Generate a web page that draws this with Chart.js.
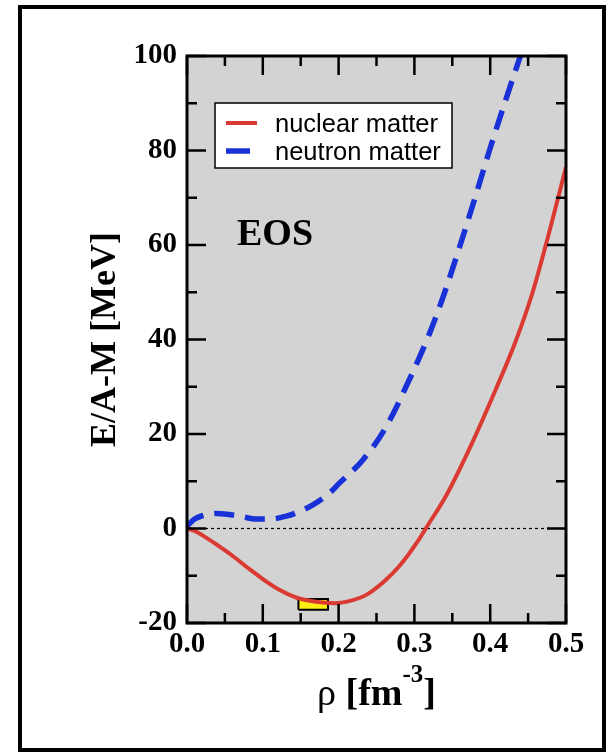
<!DOCTYPE html>
<html>
<head>
<meta charset="utf-8">
<script src="https://cdn.jsdelivr.net/npm/chart.js@4.4.0/dist/chart.umd.min.js"></script>
<style>
  html, body { margin: 0; padding: 0; background: #fff; }
</style>
</head>
<body>
<canvas id="eos" width="608" height="756"></canvas>
<script>
// values
const nuclearRho = [0, 0.01, 0.02, 0.04, 0.057, 0.08, 0.1, 0.12, 0.144, 0.17, 0.195, 0.22, 0.236, 0.26, 0.28, 0.307, 0.315, 0.342, 0.377, 0.407, 0.434, 0.456, 0.48, 0.5];
const nuclearE = [0, -0.5, -1.4, -3.5, -5.4, -8.3, -10.7, -12.8, -14.6, -15.5, -15.8, -15.1, -14.1, -11.2, -8.0, -2.1, 0, 7, 18.4, 29.3, 39.8, 50, 64, 76.5];

const neutronRho = [0, 0.01, 0.02, 0.04, 0.07, 0.092, 0.11, 0.131, 0.15, 0.166, 0.188, 0.201, 0.232, 0.263, 0.293, 0.32, 0.34, 0.364, 0.38, 0.399, 0.42, 0.443];
const neutronE = [0.5, 2.0, 2.7, 3.2, 2.6, 2.0, 2.0, 2.6, 3.7, 5.0, 7.5, 9.6, 14.5, 21.6, 31.4, 41.3, 50.0, 61.8, 70.0, 80.0, 90.5, 101.5];

const saturationRho = [0.147, 0.186];
const saturationE = [-17.2, -14.9];

const xTicks = [0, 0.1, 0.2, 0.3, 0.4, 0.5];
const xTickLabels = ['0.0', '0.1', '0.2', '0.3', '0.4', '0.5'];
const xMinorTicks = [0.05, 0.15, 0.25, 0.35, 0.45];
const yTicks = [-20, 0, 20, 40, 60, 80, 100];
const yTickLabels = ['-20', '0', '20', '40', '60', '80', '100'];
const yMinorTicks = [-10, 10, 30, 50, 70, 90];

const seriesNames = ['nuclear matter', 'neutron matter'];
const yTitle = 'E/A-M [MeV]';
const panelLabel = 'EOS';

const SERIF = '"Liberation Serif", "Times New Roman", serif';
const SANS = '"Liberation Sans", Arial, sans-serif';

function pts(xs, ys) {
  return xs.map((x, i) => ({ x: x, y: ys[i] }));
}

const boxPts = [
  { x: saturationRho[0], y: saturationE[0] },
  { x: saturationRho[1], y: saturationE[0] },
  { x: saturationRho[1], y: saturationE[1] },
  { x: saturationRho[0], y: saturationE[1] },
  { x: saturationRho[0], y: saturationE[0] }
];

const framePlugin = {
  id: 'frame',
  beforeDraw(chart) {
    const { ctx, chartArea: a } = chart;
    ctx.save();
    ctx.fillStyle = '#fff';
    ctx.fillRect(0, 0, chart.width, chart.height);
    ctx.fillStyle = '#d3d3d3';
    ctx.fillRect(a.left, a.top, a.right - a.left, a.bottom - a.top);
    // outer border of the figure
    ctx.lineWidth = 4;
    ctx.strokeStyle = '#000';
    ctx.strokeRect(20, 7, 584, 743);
    ctx.restore();
  },
  afterDatasetsDraw(chart) {
    const { ctx, chartArea: a } = chart;
    const xs = chart.scales.x, ys = chart.scales.y;
    ctx.save();
    ctx.strokeStyle = '#000';

    // inward ticks on all four sides
    ctx.lineWidth = 2.5;
    ctx.beginPath();
    const xt = (v, len) => {
      const p = xs.getPixelForValue(v);
      ctx.moveTo(p, a.bottom); ctx.lineTo(p, a.bottom - len);
      ctx.moveTo(p, a.top); ctx.lineTo(p, a.top + len);
    };
    const yt = (v, len) => {
      const p = ys.getPixelForValue(v);
      ctx.moveTo(a.left, p); ctx.lineTo(a.left + len, p);
      ctx.moveTo(a.right, p); ctx.lineTo(a.right - len, p);
    };
    xTicks.forEach(v => xt(v, 19));
    xMinorTicks.forEach(v => xt(v, 10));
    yTicks.forEach(v => yt(v, 19));
    yMinorTicks.forEach(v => yt(v, 10));
    ctx.stroke();

    // axis box
    ctx.lineWidth = 3;
    ctx.strokeRect(a.left, a.top, a.right - a.left, a.bottom - a.top);

    // legend
    const lx = a.left + 28, ly = a.top + 47, lw = 237, lh = 65;
    ctx.fillStyle = '#fff';
    ctx.fillRect(lx, ly, lw, lh);
    ctx.lineWidth = 1.5;
    ctx.strokeRect(lx, ly, lw, lh);
    const dsets = chart.data.datasets;
    const rows = [ly + 20, ly + 48];
    [0, 1].forEach(i => {
      const d = dsets[i];
      ctx.beginPath();
      ctx.strokeStyle = d.borderColor;
      ctx.lineWidth = d.borderWidth;
      ctx.setLineDash([]);
      ctx.moveTo(lx + 11, rows[i]);
      ctx.lineTo(lx + (i === 0 ? 42 : 35), rows[i]);
      ctx.stroke();
      ctx.fillStyle = '#000';
      ctx.font = '25.5px ' + SANS;
      ctx.textBaseline = 'alphabetic';
      ctx.textAlign = 'left';
      ctx.fillText(d.label, lx + 60, rows[i] + 9);
    });

    // panel label
    ctx.fillStyle = '#000';
    ctx.font = 'bold 38px ' + SERIF;
    ctx.textAlign = 'center';
    ctx.textBaseline = 'alphabetic';
    ctx.fillText(panelLabel, a.left + 88, a.top + 189);

    ctx.restore();
  },
  afterDraw(chart) {
    const { ctx, chartArea: a } = chart;
    ctx.save();
    ctx.fillStyle = '#000';
    ctx.textBaseline = 'alphabetic';
    ctx.textAlign = 'left';
    const base = a.bottom + 82;
    const fReg = '38px ' + SERIF, fBold = 'bold 38px ' + SERIF, fSup = 'bold 25px ' + SERIF;
    ctx.font = fReg; const w1 = ctx.measureText('\u03c1 ').width;
    ctx.font = fBold; const w2 = ctx.measureText('[fm').width;
    ctx.font = fSup; const w3 = ctx.measureText('-3').width;
    ctx.font = fBold; const w4 = ctx.measureText(']').width;
    let x = (a.left + a.right) / 2 - (w1 + w2 + w3 + w4) / 2;
    ctx.font = fReg; ctx.fillText('\u03c1 ', x, base); x += w1;
    ctx.font = fBold; ctx.fillText('[fm', x, base); x += w2;
    ctx.font = fSup; ctx.fillText('-3', x, base - 23); x += w3;
    ctx.font = fBold; ctx.fillText(']', x, base);
    ctx.restore();
  }
};

new Chart(document.getElementById('eos'), {
  type: 'scatter',
  data: {
    datasets: [
      {
        label: seriesNames[0],
        data: pts(nuclearRho, nuclearE),
        showLine: true,
        borderColor: 'rgb(218, 58, 50)',
        borderWidth: 4,
        pointRadius: 0,
        cubicInterpolationMode: 'monotone',
        fill: false
      },
      {
        label: seriesNames[1],
        data: pts(neutronRho, neutronE),
        showLine: true,
        borderColor: 'rgb(25, 50, 215)',
        borderWidth: 5.5,
        borderDash: [20, 11],
        pointRadius: 0,
        cubicInterpolationMode: 'monotone',
        fill: false
      },
      {
        label: 'saturation',
        data: boxPts,
        showLine: true,
        borderColor: '#000',
        borderWidth: 2,
        backgroundColor: 'rgb(255, 238, 20)',
        pointRadius: 0,
        tension: 0,
        fill: 'shape'
      },
      {
        label: 'zero',
        data: [{ x: 0, y: 0 }, { x: 0.5, y: 0 }],
        showLine: true,
        borderColor: '#000',
        borderWidth: 1.2,
        borderDash: [3, 3],
        pointRadius: 0,
        fill: false
      }
    ]
  },
  options: {
    responsive: false,
    animation: false,
    devicePixelRatio: 1,
    layout: { padding: { left: 20, top: 56, right: 42, bottom: 0 } },
    plugins: {
      legend: { display: false },
      tooltip: { enabled: false }
    },
    scales: {
      x: {
        type: 'linear',
        min: 0,
        max: 0.5,
        afterBuildTicks: s => { s.ticks = xTicks.map(v => ({ value: v })); },
        afterFit: s => { s.height = 133; },
        grid: { display: false, drawTicks: false },
        border: { display: false },
        ticks: {
          callback: v => xTickLabels[xTicks.findIndex(t => Math.abs(t - v) < 1e-9)],
          color: '#000',
          font: { family: SERIF, size: 29, weight: 'bold' },
          padding: 4,
          maxRotation: 0,
          autoSkip: false
        }
      },
      y: {
        type: 'linear',
        min: -20,
        max: 100,
        afterBuildTicks: s => { s.ticks = yTicks.map(v => ({ value: v })); },
        afterFit: s => { s.width = 167; },
        grid: { display: false, drawTicks: false },
        border: { display: false },
        title: {
          display: true,
          text: yTitle,
          color: '#000',
          font: { family: SERIF, size: 36, weight: 'bold' },
          padding: { top: 64, bottom: 0 }
        },
        ticks: {
          callback: v => yTickLabels[yTicks.indexOf(v)],
          color: '#000',
          font: { family: SERIF, size: 29, weight: 'bold' },
          padding: 10,
          autoSkip: false
        }
      }
    }
  },
  plugins: [framePlugin]
});
</script>
</body>
</html>
